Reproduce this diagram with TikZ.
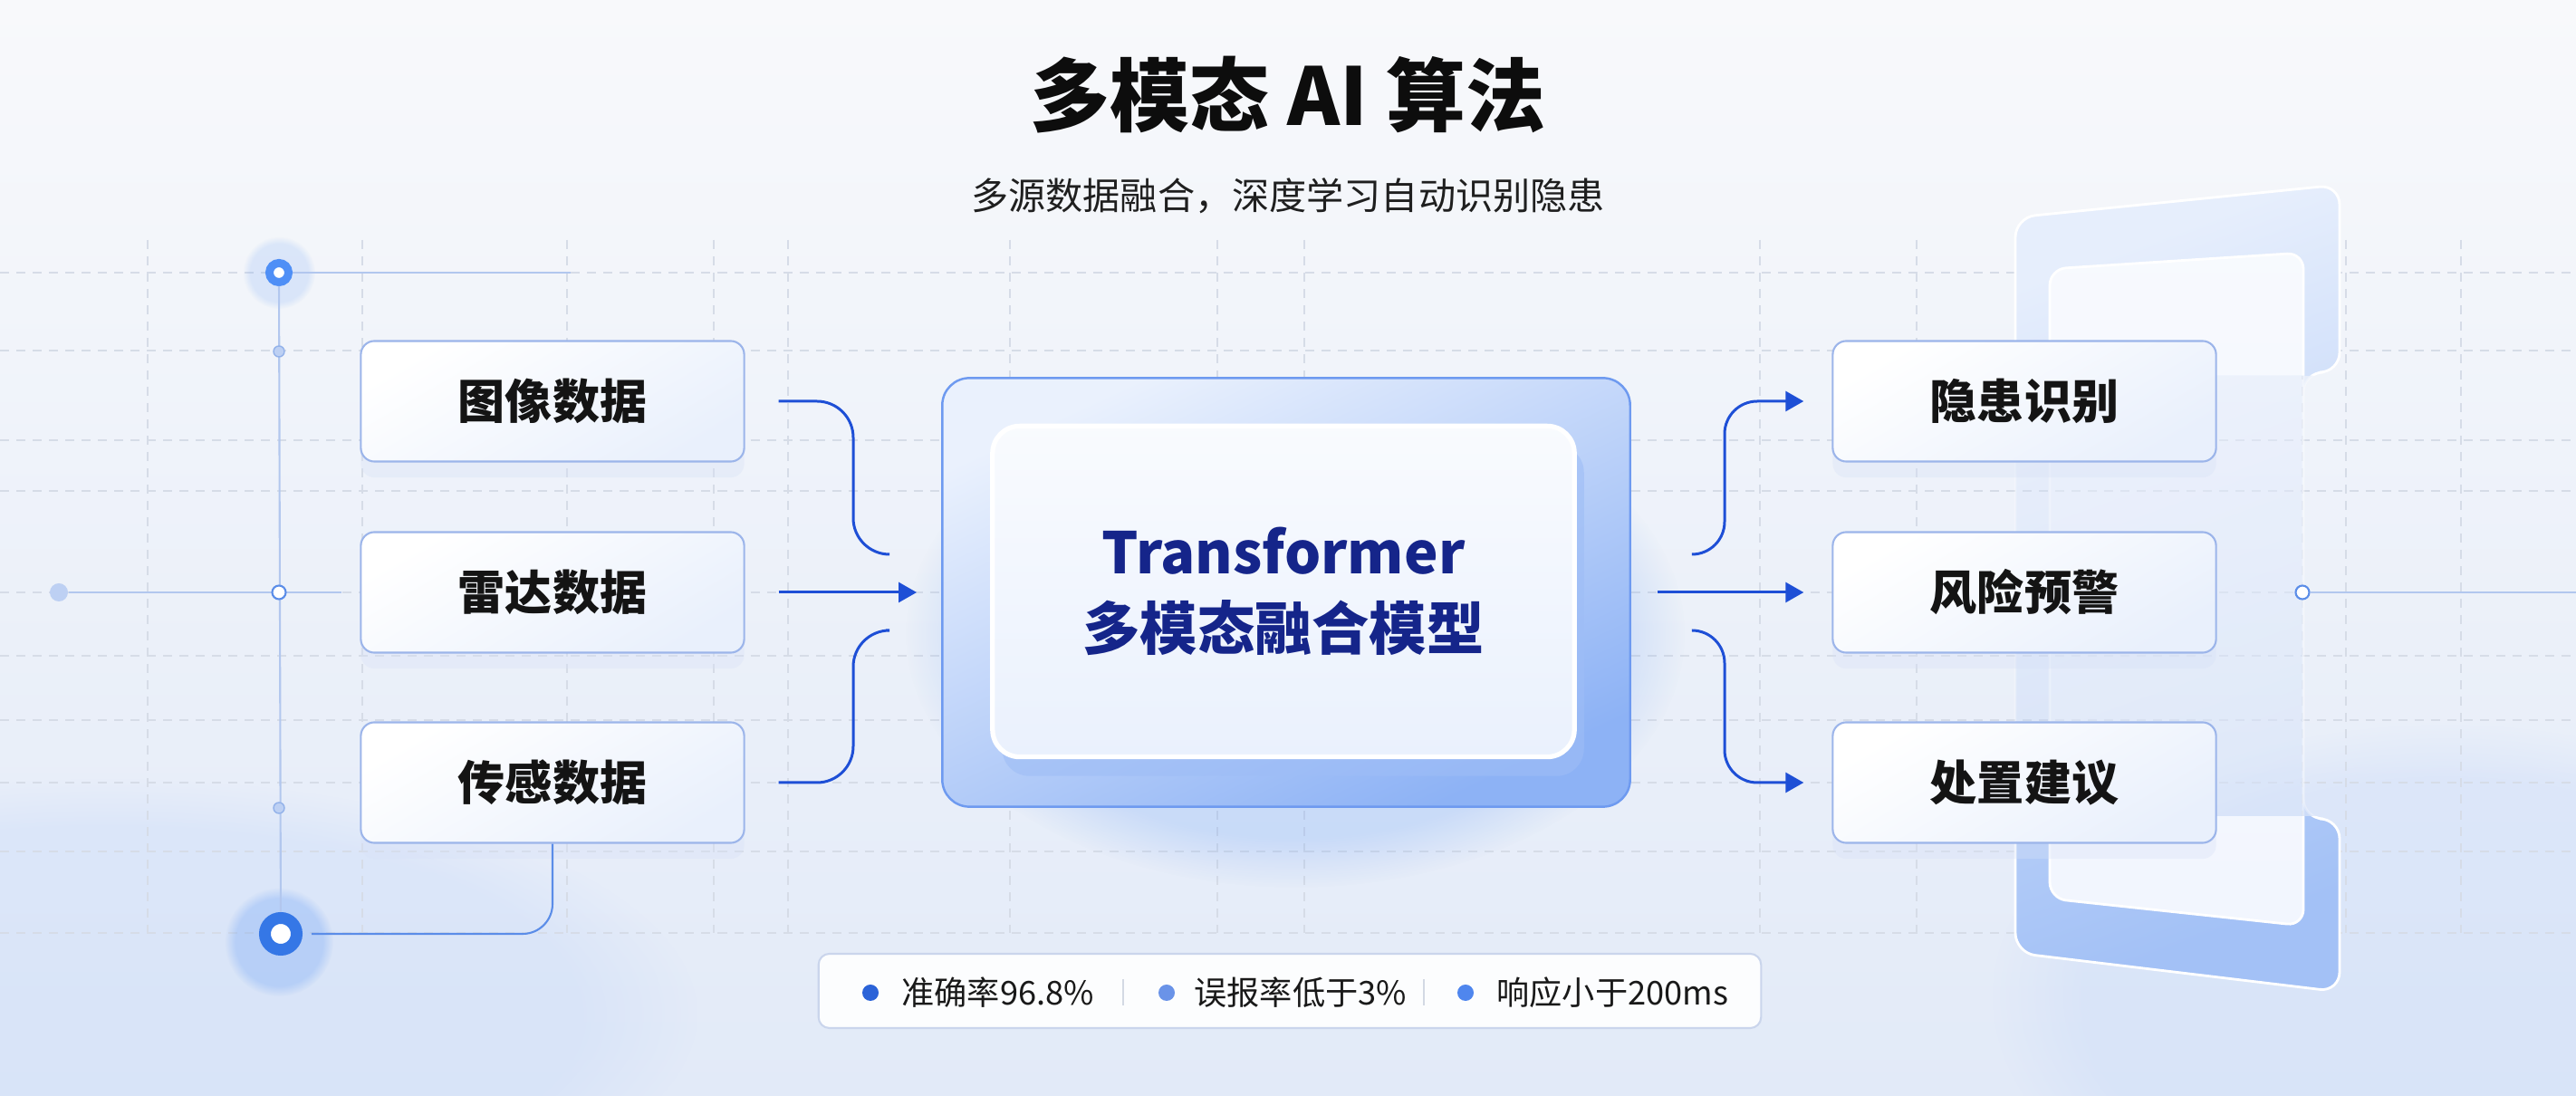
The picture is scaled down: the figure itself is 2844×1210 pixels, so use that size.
\documentclass[tikz,border=0pt]{standalone}
\usepackage{fontspec}
\setmainfont{Noto Sans CJK SC}
\usetikzlibrary{arrows.meta,positioning,shadows,fadings}

\definecolor{bgtop}{HTML}{F8F9FB}
\definecolor{bgbot}{HTML}{E2EAF8}
\definecolor{gridgray}{HTML}{D6DCE7}
\definecolor{cardedge}{HTML}{9CB5EA}
\definecolor{cardlow}{HTML}{E9F0FC}
\definecolor{flowblue}{HTML}{1E4FD6}
\definecolor{navy}{HTML}{15258A}
\definecolor{ringblue}{HTML}{4F8FF6}
\definecolor{ringdeep}{HTML}{3577E6}
\definecolor{paleline}{HTML}{B2C7EE}
\definecolor{pipfill}{HTML}{BDD0F3}
\definecolor{pipedge}{HTML}{93B2EA}
\definecolor{holeedge}{HTML}{5B8DE8}
\definecolor{frameA}{HTML}{E6EEFC}
\definecolor{frameB}{HTML}{D3E2FA}
\definecolor{frameD}{HTML}{A3C1F6}
\definecolor{panel}{HTML}{F2F6FE}
\definecolor{modelA}{HTML}{EAF1FD}
\definecolor{modelC}{HTML}{C7D9F9}
\definecolor{modelD}{HTML}{8DB2F5}
\definecolor{modeledge}{HTML}{6E9AF0}
\definecolor{coreshadow}{HTML}{9EBDF6}
\definecolor{statedge}{HTML}{CAD5EC}
\definecolor{sepgray}{HTML}{D3D9E4}
\definecolor{dotone}{HTML}{2B63D8}
\definecolor{dottwo}{HTML}{6A93E8}
\definecolor{dotthree}{HTML}{4F86EE}

\tikzset{
  card/.style={draw=cardedge, line width=0.6pt, rounded corners=0.15cm,
    minimum width=4.23cm, minimum height=1.33cm,
    top color=white, bottom color=cardlow, shading angle=30,
    drop shadow={shadow xshift=0pt, shadow yshift=-5pt, fill=cardedge!40, opacity=0.35},
    font=\bfseries\fontsize{14.8}{18}\selectfont, text=black!92},
  flowline/.style={draw=flowblue, line width=0.85pt},
  tip/.style={-{Triangle[length=0.2cm,width=0.22cm]}},
  gridline/.style={draw=gridgray, line width=0.4pt, dash pattern=on 0.1cm off 0.08cm},
  guide/.style={draw=paleline, line width=0.6pt},
  ringsmall/.style={circle, draw=ringblue, line width=0.09cm, fill=white, inner sep=0pt, minimum size=0.21cm},
  ringbig/.style={circle, draw=ringdeep, line width=0.13cm, fill=white, inner sep=0pt, minimum size=0.35cm},
  pip/.style={circle, fill=pipfill, draw=pipedge, line width=0.4pt, inner sep=0pt, minimum size=0.12cm},
  hole/.style={circle, fill=white, draw=holeedge, line width=0.6pt, inner sep=0pt, minimum size=0.15cm},
  statdot/.style={circle, inner sep=0pt, minimum size=0.18cm},
  stattext/.style={inner sep=0pt, anchor=west, font=\fontsize{10.3}{12}\selectfont, text=black!90},
  glow/.style={path fading=circle with fuzzy edge 20 percent}
}

\begin{document}
\begin{tikzpicture}[x=0.01cm, y=-0.01cm]
\useasboundingbox (0,0) rectangle (2844,1210);

% background
\shade[top color=bgtop, bottom color=bgbot] (0,0) rectangle (2844,1210);
\fill[modelC, opacity=0.35, glow] (120,1120) ellipse (650 and 260);
\fill[modelC, opacity=0.35, glow] (2700,1100) ellipse (500 and 300);

% dashed grid
\foreach \gx in {163,400,626,788,870,1115,1344,1440,1943,2116,2542,2590,2717}
  \draw[gridline] (\gx,265) -- (\gx,1030);
\foreach \gy in {301,387,486,542,654,724,795,864,940,1030}
  \draw[gridline] (0,\gy) -- (2844,\gy);

% tilted frame behind the results, faint in its middle band
\foreach \ya/\yb/\op in {150/415/1, 415/902/0.3, 902/1120/1} {
  \begin{scope}
    \clip (2150,\ya) rectangle (2650,\yb);
    \shade[opacity=\op, top color=frameA, middle color=frameB, bottom color=frameD,
      shading angle=20, draw=white, line width=0.8pt, rounded corners=0.22cm]
      (2225,600) -- (2225,240) -- (2583,204) -- (2583,411) -- (2543,411)
      -- (2543,904) -- (2583,904) -- (2583,1095) -- (2225,1052) -- cycle;
    \shade[opacity=\op, top color=panel!60!white, bottom color=panel,
      draw=white, line width=0.8pt, rounded corners=0.18cm]
      (2263,297) -- (2543,279) -- (2543,1022) -- (2263,992) -- cycle;
  \end{scope}
}

% left rail
\fill[ringblue, opacity=0.25, glow] (308,1040) circle (60);
\fill[ringblue, opacity=0.15, glow] (308,301) circle (40);
\node[ringsmall] (ringTop) at (308,301) {};
\node[ringbig] (ringBot) at (310,1031) {};
\coordinate (topEnd) at (630,301);
\draw[guide] (ringTop) -- (topEnd);
\draw[guide] (ringTop) -- (ringBot);
\node[pip] (pipA) at (308,388) {};
\node[pip] (pipB) at (308,892) {};
\node[circle, fill=pipfill, inner sep=0pt, minimum size=0.2cm] (dotL) at (65,654) {};

% input cards
\node[card] (img) at (610,443) {图像数据};
\node[card] (radar) at (610,654) {雷达数据};
\node[card] (sensor) at (610,864) {传感数据};

\draw[guide, shorten >=0.2cm] (dotL) -- (radar.west);
\node[hole] (holeL) at (308,654) {};
\draw[draw=holeedge, line width=0.6pt, rounded corners=0.33cm, shorten >=0.1cm]
  (sensor.south) |- (ringBot);

% fusion model
\fill[ringblue, opacity=0.2, glow] (1430,700) ellipse (430 and 280);
\node[draw=modeledge, line width=0.7pt, rounded corners=0.3cm,
  minimum width=7.59cm, minimum height=4.73cm,
  top color=modelA, middle color=modelC, bottom color=modelD, shading angle=25] (model) at (1420,654) {};
\node[draw=white, line width=1.5pt, rounded corners=0.3cm,
  minimum width=6.42cm, minimum height=3.65cm,
  top color=white!70!modelA, bottom color=modelA,
  drop shadow={shadow xshift=3pt, shadow yshift=-6pt, fill=coreshadow, opacity=0.6},
  align=center, text=navy, font=\bfseries\fontsize{18}{24}\selectfont] (core) at (1417,653)
  {Transformer\\多模态融合模型};

% inputs into the model
\coordinate (inA) at (978,612);
\coordinate (inC) at (978,696);
\draw[flowline, rounded corners=0.4cm, shorten <=0.37cm]
  (img.east) -- (942,443) -- (942,612) -- (inA);
\draw[flowline, tip, shorten <=0.37cm, shorten >=0.27cm] (radar) -- (model);
\draw[flowline, rounded corners=0.4cm, shorten <=0.37cm]
  (sensor.east) -- (942,864) -- (942,696) -- (inC);

% result cards
\node[card] (hidden) at (2235,443) {隐患识别};
\node[card] (warn) at (2235,654) {风险预警};
\node[card] (advice) at (2235,864) {处置建议};

\coordinate (outA) at (1868,612);
\coordinate (outC) at (1868,696);
\draw[flowline, tip, rounded corners=0.36cm, shorten >=0.31cm]
  (outA) -- (1904,612) -- (1904,443) -- (hidden.west);
\draw[flowline, tip, shorten <=0.29cm, shorten >=0.31cm] (model) -- (warn);
\draw[flowline, tip, rounded corners=0.36cm, shorten >=0.31cm]
  (outC) -- (1904,696) -- (1904,864) -- (advice.west);

\node[hole] (holeR) at (2542,654) {};
\coordinate (rEnd) at (2844,654);
\draw[guide] (holeR) -- (rEnd);

% metrics bar
\node[draw=statedge, line width=0.6pt, fill=white, fill opacity=0.9, rounded corners=0.12cm,
  minimum width=10.4cm, minimum height=0.82cm] (stats) at (1424,1094) {};
\node[statdot, fill=dotone] (dotA) at (961,1096) {};
\node[stattext, right=0.24cm of dotA] (accuracy) {准确率96.8\%};
\node[statdot, fill=dottwo] (dotB) at (1288,1096) {};
\node[stattext, right=0.2cm of dotB] (falsealarm) {误报率低于3\%};
\node[statdot, fill=dotthree] (dotC) at (1618,1096) {};
\node[stattext, right=0.24cm of dotC] (latency) {响应小于200ms};
\draw[sepgray, line width=0.6pt] (1240,1081) -- (1240,1110);
\draw[sepgray, line width=0.6pt] (1572,1081) -- (1572,1110);

% heading
\node[font=\bfseries\fontsize{25}{30}\selectfont, text=black!95] (title) at (1422,105) {多模态 AI 算法};
\node[font=\fontsize{11.7}{14}\selectfont, text=black!88] (subtitle) at (1422,216)
  {多源数据融合，深度学习自动识别隐患};
\end{tikzpicture}
\end{document}
